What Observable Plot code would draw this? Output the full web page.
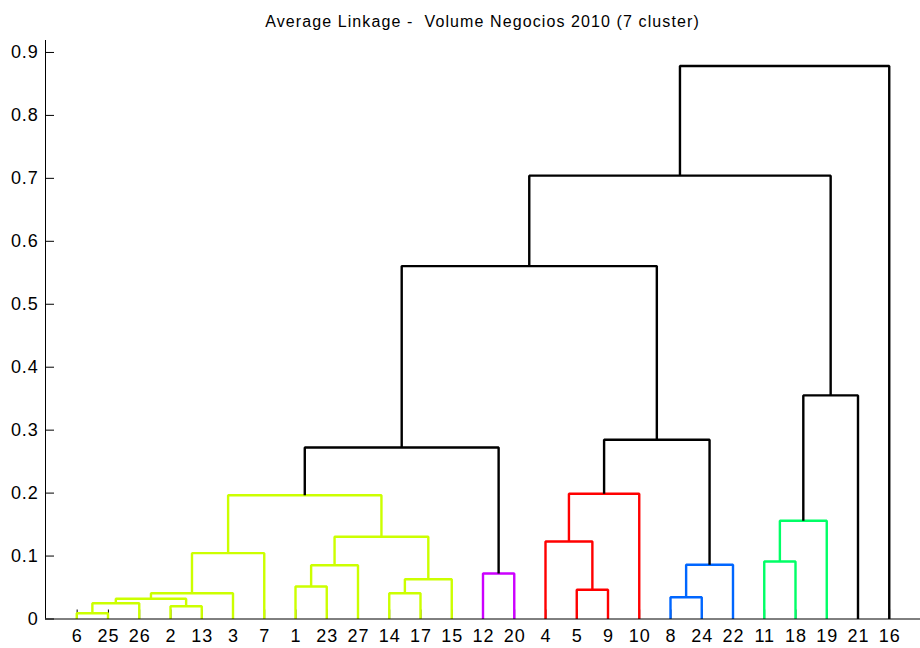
<!DOCTYPE html>
<html><head><meta charset="utf-8">
<script src="https://cdn.jsdelivr.net/npm/d3@7"></script>
<script src="https://cdn.jsdelivr.net/npm/@observablehq/plot@0.6"></script>
<style>
body{margin:0;background:#fff;font-family:"Liberation Sans",Arial,sans-serif;}
#title{height:32px;width:920px;box-sizing:border-box;padding-left:45px;padding-top:14px;text-align:center;font-size:16px;line-height:15px;letter-spacing:1.1px;white-space:pre;color:#000;}
#chart svg text{letter-spacing:0.8px;}
</style></head><body>
<div id="title">Average Linkage -  Volume Negocios 2010 (7 cluster)</div>
<div id="chart"></div>
<script>
// leaf order along the x axis
const leaves = [6,25,26,2,13,3,7,1,23,27,14,17,15,12,20,4,5,9,10,8,24,22,11,18,19,21,16];
// merges: children are leaf labels (numbers) or earlier merges ("m1", "m2", ...)
const mergePairs = [
  [6,25],["m1",26],[2,13],["m2","m3"],["m4",3],["m5",7],
  [1,23],["m7",27],[14,17],["m9",15],["m8","m10"],["m6","m11"],
  [12,20],["m12","m13"],
  [5,9],[4,"m15"],["m16",10],[8,24],["m18",22],["m17","m19"],
  ["m14","m20"],
  [11,18],["m22",19],["m23",21],["m21","m24"],["m25",16]
];
const mergeHeights = [
  0.0092,0.0251,0.0203,0.0321,0.0410,0.1046,
  0.0516,0.0855,0.0410,0.0632,0.1306,0.1967,
  0.0723,0.2725,
  0.0464,0.1232,0.1990,0.0346,0.0861,0.2848,
  0.5606,
  0.0914,0.1560,0.3552,0.7043,0.8784
];
const mergeColors = [
  "#ccff00","#ccff00","#ccff00","#ccff00","#ccff00","#ccff00",
  "#ccff00","#ccff00","#ccff00","#ccff00","#ccff00","#ccff00",
  "#cc00ff","#000000",
  "#ff0000","#ff0000","#ff0000","#0066ff","#0066ff","#000000",
  "#000000",
  "#00ff66","#00ff66","#000000","#000000","#000000"
];
const yTicks = [0,0.1,0.2,0.3,0.4,0.5,0.6,0.7,0.8,0.9];

const pos = new Map(leaves.map((l,i)=>[String(l),{x:i+1,y:0}]));
const segs = [];
mergePairs.forEach(([a,b],i)=>{
  const A = pos.get(String(a)), B = pos.get(String(b)), h = mergeHeights[i], c = mergeColors[i];
  const id = "m"+(i+1);
  pos.set(id,{x:(A.x+B.x)/2,y:h});
  segs.push({id,x:A.x,y:A.y,c},{id,x:A.x,y:h,c},{id,x:B.x,y:h,c},{id,x:B.x,y:B.y,c});
});
const leafPos = leaves.map((_,i)=>i+1);

const chart = Plot.plot({
  width:920, height:616,
  marginLeft:45, marginRight:0, marginTop:8, marginBottom:29.5,
  style:{fontFamily:"'Liberation Sans', Arial, sans-serif", fontSize:"18px", color:"#000", background:"#fff"},
  x:{domain:[0,28]},
  y:{domain:[0,0.919]},
  marks:[
    Plot.axisY({ticks:yTicks, tickSize:-9, tickPadding:16, tickFormat:d=>String(d), fontSize:18, label:null}),
    Plot.axisX({ticks:leafPos, tickSize:-9, tickPadding:19, tickFormat:i=>String(leaves[i-1]), fontSize:18, dx:0.4, label:null}),
    Plot.line(segs,{x:"x",y:"y",z:"id",stroke:"c",strokeWidth:2.4,strokeLinejoin:"miter",strokeLinecap:"butt"}),
    Plot.ruleX([0],{y1:0,y2:0.919,stroke:"#000"}),
    Plot.ruleY([0],{stroke:"#000"})
  ]
});
document.getElementById("chart").appendChild(chart);
</script>
</body></html>
